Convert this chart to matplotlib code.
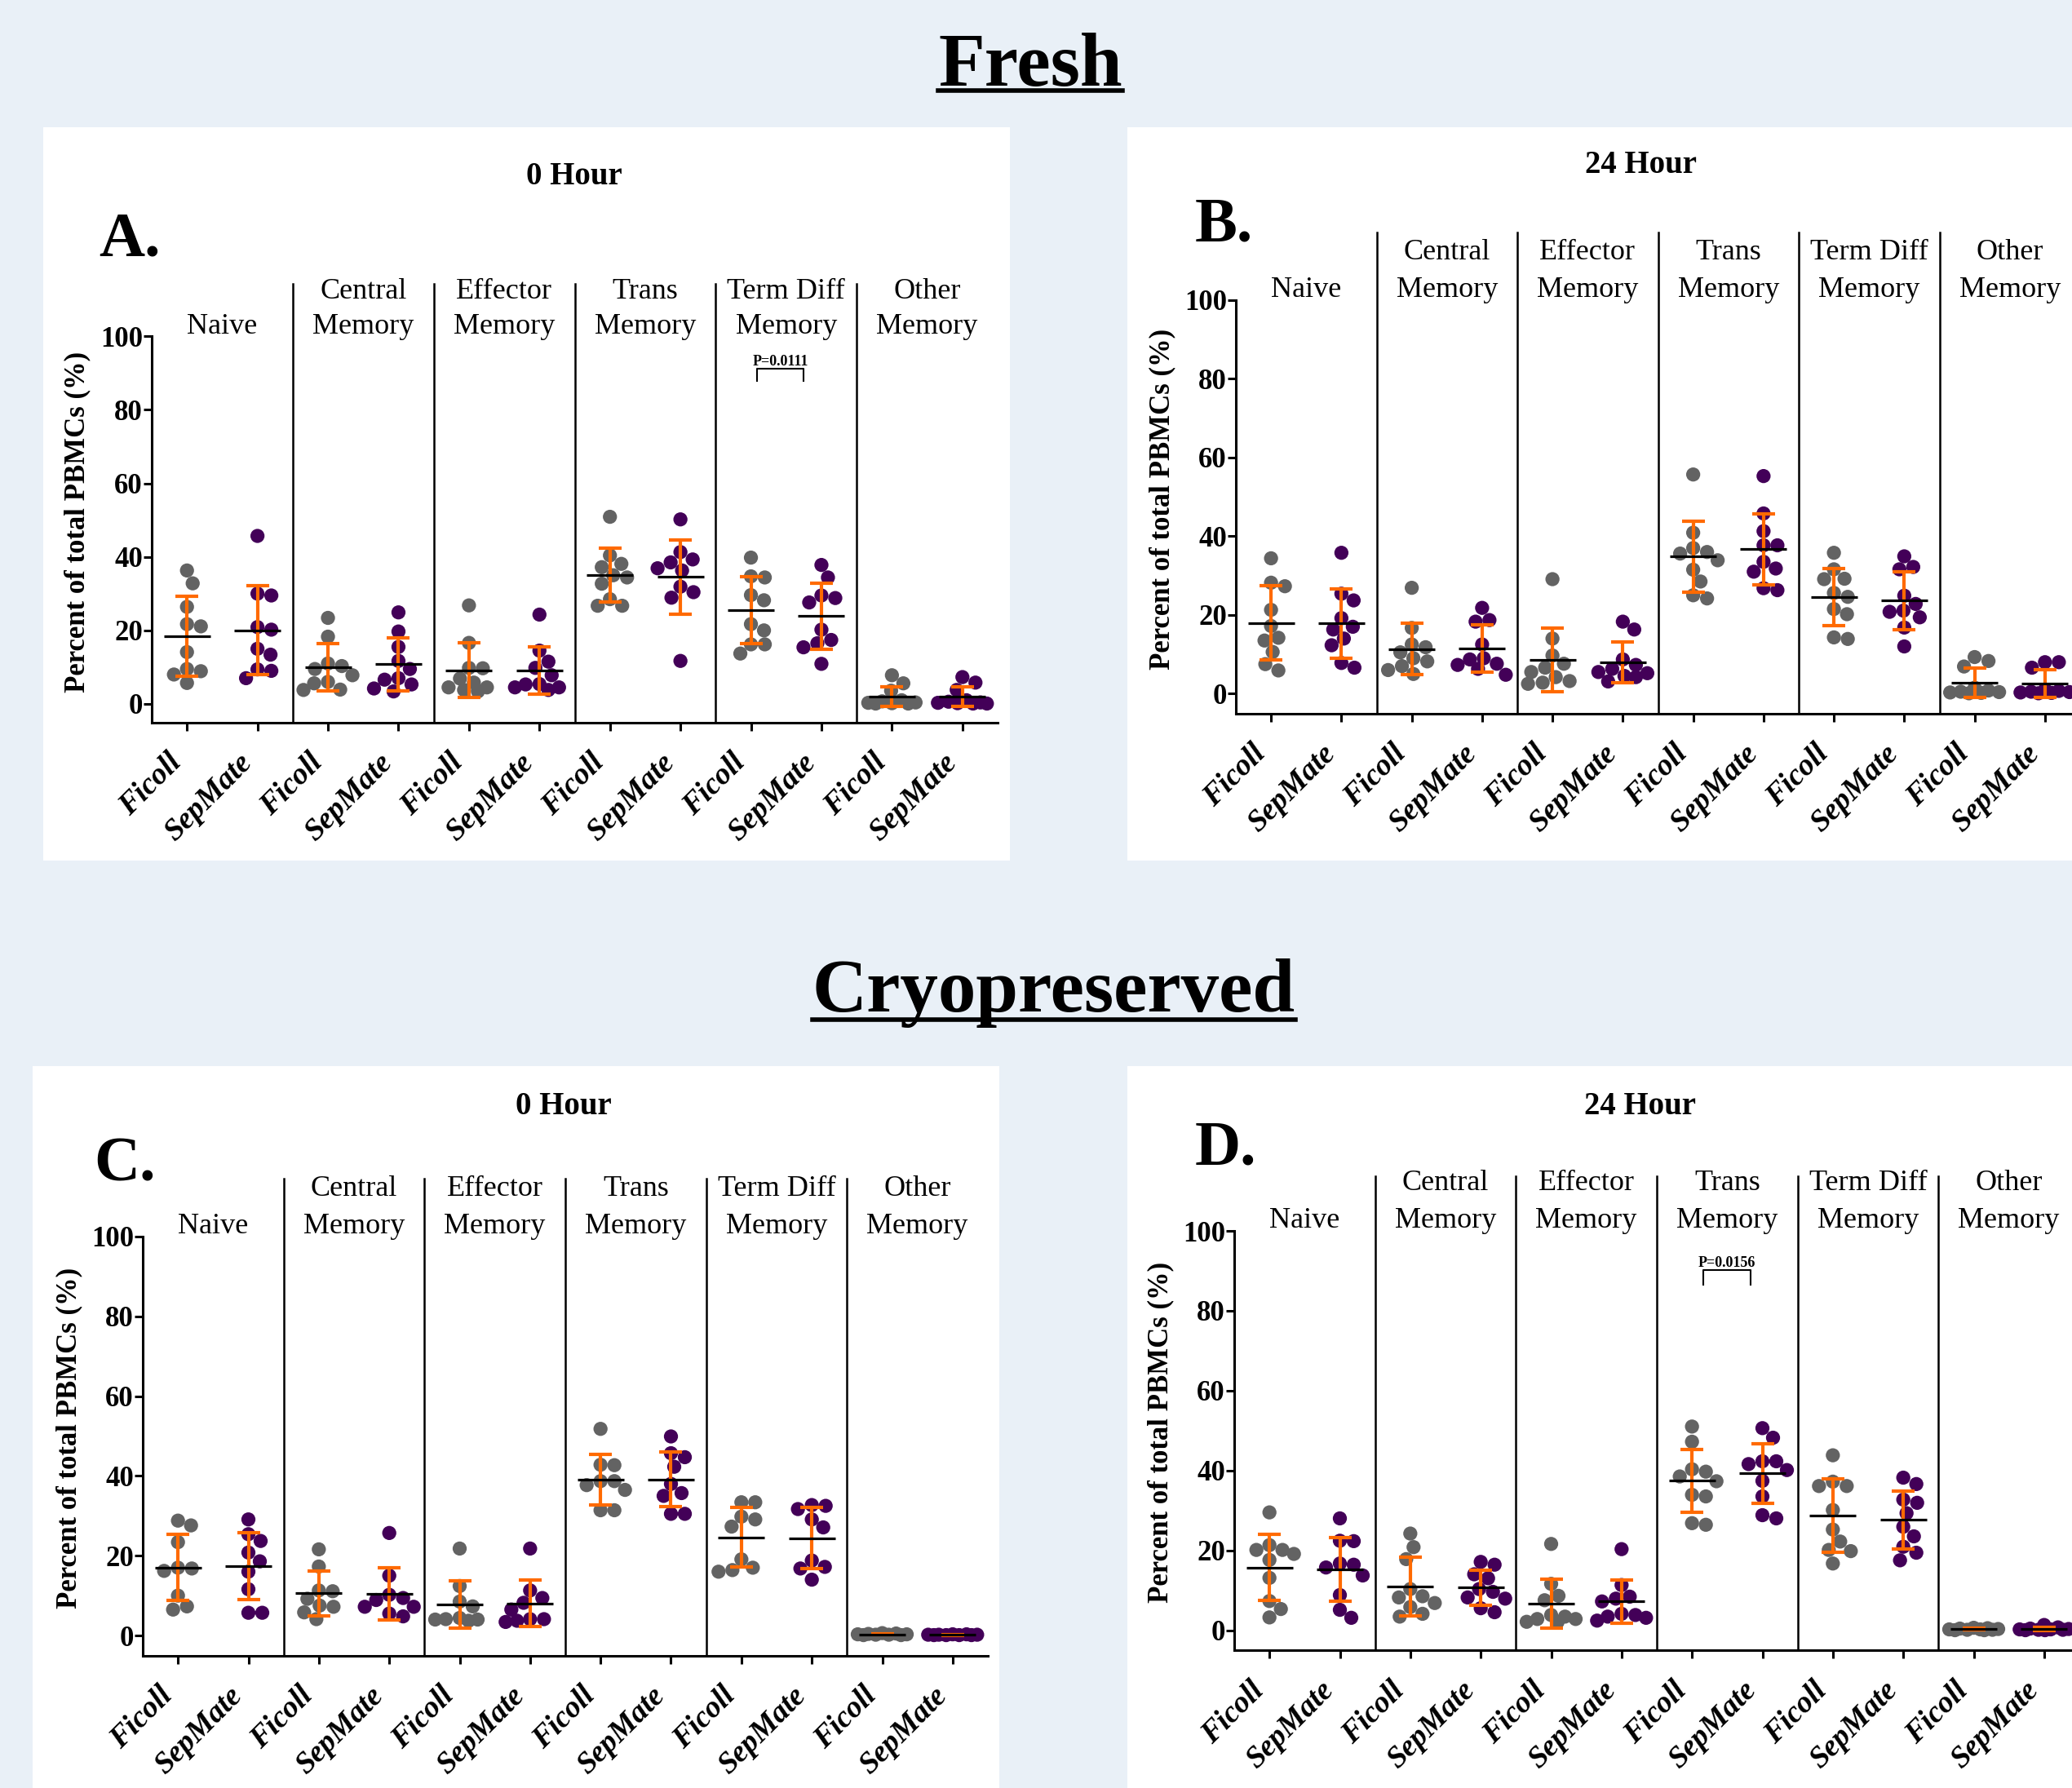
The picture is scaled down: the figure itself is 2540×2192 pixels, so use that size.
import numpy as np
import matplotlib
matplotlib.use("Agg")
import matplotlib.pyplot as plt
from matplotlib.patches import Rectangle
from matplotlib.lines import Line2D

plt.rcParams['font.family'] = ['Liberation Serif', 'DejaVu Serif']

W, H = 2540, 2192

# ---- data (percent of total PBMCs), one list per cell type ----
cell_types = [("", "Naive"), ("Central", "Memory"), ("Effector", "Memory"),
              ("Trans", "Memory"), ("Term Diff", "Memory"), ("Other", "Memory")]
methods = ["Ficoll", "SepMate"]

# Fresh, 0 hour
A_ficoll = [
    [36.3, 32.8, 26.4, 21.7, 21.1, 14.1, 9.5, 8.9, 8.0, 5.7],
    [23.4, 18.3, 11.0, 10.3, 9.5, 7.8, 6.0, 5.6, 3.9, 3.8],
    [26.8, 16.6, 9.8, 9.7, 6.9, 5.8, 4.5, 4.5, 3.8, 3.4],
    [50.9, 40.4, 38.1, 37.2, 35.0, 34.4, 32.7, 28.5, 26.7, 26.7],
    [39.8, 34.7, 34.4, 29.6, 28.2, 21.7, 20.0, 16.2, 16.2, 13.7],
    [7.8, 5.6, 3.6, 1.0, 0.7, 0.4, 0.3, 0.2, 0.1, 0.1],
]
A_sepmate = [
    [45.7, 30.0, 29.5, 20.9, 20.2, 15.0, 13.4, 9.4, 9.0, 7.0],
    [24.9, 19.7, 15.5, 11.7, 9.5, 7.0, 6.6, 5.3, 4.2, 3.4],
    [24.3, 14.5, 11.5, 9.8, 7.8, 5.4, 5.3, 4.5, 4.5, 3.8],
    [50.2, 41.3, 39.3, 38.5, 36.9, 36.3, 31.9, 30.4, 28.9, 11.7],
    [37.8, 34.4, 29.5, 28.8, 27.6, 20.2, 17.4, 16.5, 15.4, 10.9],
    [7.3, 5.8, 3.8, 1.0, 0.6, 0.4, 0.3, 0.2, 0.1, 0.1],
]
# Fresh, 24 hour
B_ficoll = [
    [34.4, 28.2, 27.3, 21.3, 17.2, 14.2, 13.5, 10.6, 7.5, 5.9],
    [26.9, 16.7, 12.5, 11.8, 10.5, 9.0, 8.2, 7.0, 6.0, 5.0],
    [29.1, 14.0, 9.7, 7.6, 6.6, 5.5, 4.2, 3.2, 2.8, 2.5],
    [55.7, 40.9, 37.0, 36.0, 35.6, 33.9, 31.5, 28.5, 25.0, 24.2],
    [35.8, 31.6, 29.2, 29.1, 25.6, 24.6, 21.5, 20.2, 14.3, 13.9],
    [9.3, 8.3, 6.9, 1.5, 0.8, 0.5, 0.4, 0.3, 0.2, 0.1],
]
B_sepmate = [
    [35.8, 25.4, 23.7, 19.2, 17.0, 16.3, 14.0, 12.3, 7.8, 6.6],
    [21.8, 18.7, 18.3, 12.5, 9.0, 8.7, 7.6, 7.3, 6.3, 4.8],
    [18.3, 16.3, 8.7, 7.3, 6.3, 5.5, 5.2, 4.5, 4.2, 3.1],
    [55.3, 45.8, 41.3, 37.7, 37.7, 33.5, 31.8, 31.0, 26.8, 26.3],
    [34.9, 32.2, 31.6, 24.9, 22.8, 21.1, 20.8, 19.4, 16.8, 12.0],
    [8.0, 8.0, 6.6, 1.0, 0.7, 0.5, 0.4, 0.3, 0.2, 0.1],
]
# Cryopreserved, 0 hour
C_ficoll = [
    [28.8, 27.6, 23.4, 17.0, 16.8, 16.2, 10.0, 7.3, 6.5],
    [21.6, 17.3, 11.3, 11.1, 9.2, 7.5, 7.2, 5.8, 4.1],
    [21.8, 12.4, 8.5, 7.3, 4.4, 4.1, 4.0, 4.0, 3.7],
    [51.8, 42.8, 42.7, 38.7, 38.7, 37.7, 36.5, 31.4, 31.4],
    [33.4, 33.4, 29.8, 29.1, 27.3, 19.1, 17.0, 16.4, 16.0],
    [0.6, 0.5, 0.4, 0.3, 0.3, 0.2, 0.2, 0.1, 0.1],
]
C_sepmate = [
    [29.1, 25.4, 23.7, 20.8, 18.6, 16.0, 11.6, 5.7, 5.7],
    [25.7, 15.0, 10.2, 9.4, 8.9, 7.2, 7.2, 5.5, 4.8],
    [21.8, 11.3, 9.4, 8.2, 6.5, 4.1, 4.1, 3.7, 3.4],
    [49.9, 45.7, 44.7, 42.3, 38.0, 35.7, 35.0, 30.5, 30.5],
    [32.7, 32.5, 31.7, 29.1, 27.1, 18.8, 17.2, 16.8, 14.0],
    [0.3, 0.3, 0.2, 0.2, 0.2, 0.1, 0.1, 0.1, 0.1],
]
# Cryopreserved, 24 hour
D_ficoll = [
    [29.5, 21.3, 20.1, 20.1, 19.1, 17.6, 13.1, 7.3, 5.3, 3.2],
    [24.2, 20.8, 17.8, 10.3, 8.5, 8.2, 6.8, 5.8, 4.1, 3.4],
    [21.6, 11.6, 8.6, 7.5, 3.8, 3.4, 2.8, 2.8, 2.1, 2.1],
    [51.0, 47.2, 40.3, 39.7, 38.5, 37.3, 33.9, 33.5, 26.8, 26.4],
    [43.8, 37.2, 36.1, 36.1, 30.1, 25.2, 22.2, 20.1, 19.8, 16.7],
    [0.6, 0.5, 0.4, 0.3, 0.2, 0.2, 0.1, 0.1, 0.0, 0.0],
]
D_sepmate = [
    [28.0, 22.4, 22.3, 16.7, 16.4, 15.7, 13.7, 8.8, 5.1, 3.1],
    [17.1, 16.4, 14.0, 13.0, 10.3, 9.6, 8.2, 7.9, 5.5, 4.5],
    [20.3, 11.3, 8.4, 7.9, 7.2, 4.1, 3.8, 3.4, 3.1, 2.4],
    [50.6, 48.2, 42.3, 42.3, 41.6, 40.1, 37.4, 33.5, 28.8, 28.0],
    [38.2, 36.6, 32.7, 31.9, 29.3, 25.9, 23.5, 20.9, 19.4, 17.5],
    [1.3, 0.7, 0.4, 0.3, 0.2, 0.2, 0.1, 0.1, 0.0, 0.0],
]

BG = '#e9f0f7'
GREY = '#636363'
PURPLE = '#430058'
ORANGE = '#ff6a00'


def fx(px):
    return px / W


def fy(py):
    return 1 - py / H


def swarm(values, xc, ppx, ppy, d=17.0, cap=30):
    # simple beeswarm in pixel space, limited width (points may overlap)
    placed = []
    xs = np.zeros(len(values))
    offs = sorted(range(-cap, cap + 1), key=lambda o: (abs(o), -o))
    for i in np.argsort(values)[::-1]:
        y = values[i] * ppy
        best, best_d = 0, -1
        for o in offs:
            md = min([np.hypot(o - px, y - py) for px, py in placed] or [1e9])
            if md >= d:
                best = o
                break
            if md > best_d:
                best, best_d = o, md
        placed.append((best, y))
        xs[i] = xc + best / ppx
    return xs


panels = [
    dict(letter="A.", title="0 Hour", fic=A_ficoll, sep=A_sepmate,
         box=(53, 156, 1238, 1055), ax=(186, 1223, 412.3, 885.5),
         title_xy=(704, 216), letter_xy=(121, 314), div_top=114.3,
         pval=("P=0.0111", 8.09, 8.75, 91.1, 87.9)),
    dict(letter="B.", title="24 Hour", fic=B_ficoll, sep=B_sepmate,
         box=(1382, 156, 2545, 1055), ax=(1515, 2550, 368, 874.5),
         title_xy=(2012, 203), letter_xy=(1465, 296), div_top=117.2, pval=None),
    dict(letter="C.", title="0 Hour", fic=C_ficoll, sep=C_sepmate,
         box=(40, 1307, 1225, 2200), ax=(175, 1211, 1516, 2029.5),
         title_xy=(691, 1357), letter_xy=(115, 1447), div_top=114.5, pval=None),
    dict(letter="D.", title="24 Hour", fic=D_ficoll, sep=D_sepmate,
         box=(1382, 1307, 2545, 2200), ax=(1513, 2549, 1509, 2023),
         title_xy=(2011, 1357), letter_xy=(1465, 1428), div_top=113.7,
         pval=("P=0.0156", 6.16, 6.83, 90.2, 86.6)),
]

fig = plt.figure(figsize=(W / 100, H / 100), dpi=100)
fig.patch.set_facecolor(BG)

for p in panels:
    x0, y0, x1, y1 = p['box']
    fig.patches.append(Rectangle((fx(x0), fy(y1)), fx(x1) - fx(x0), fy(y0) - fy(y1),
                                 transform=fig.transFigure, facecolor='white',
                                 edgecolor='none', zorder=-5))

    l, r, t, b = p['ax']
    ax = fig.add_axes([fx(l), fy(b), (r - l) / W, (b - t) / H])
    ax.patch.set_visible(False)
    ax.set_xlim(-0.5, 11.5)
    ax.set_ylim(-5, 100)
    ppx = (r - l) / 12.0
    ppy = (b - t) / 105.0

    for g in range(6):
        for k, (vals, col) in enumerate([(p['fic'][g], GREY), (p['sep'][g], PURPLE)]):
            xc = 2 * g + k
            v = np.array(vals)
            xs = swarm(v, xc, ppx, ppy)
            ax.scatter(xs, v, s=155, color=col, edgecolor='none', zorder=2, clip_on=False)
            m, sd = v.mean(), v.std(ddof=1)
            ax.errorbar(xc, m, yerr=sd, fmt='none', ecolor=ORANGE, elinewidth=3,
                        capsize=10, capthick=3, zorder=3, clip_on=False)
            ax.hlines(m, xc - 0.33, xc + 0.33, color='black', lw=2.3, zorder=4)
        if g > 0:
            ax.add_line(Line2D([2 * g - 0.5] * 2, [-5, p['div_top']], color='black',
                               lw=1.8, clip_on=False))
        l1, l2 = cell_types[g]
        ax.text(2 * g + 0.5, 100.8, l2, ha='center', va='baseline', fontsize=26)
        if l1:
            ax.text(2 * g + 0.5, 110.3, l1, ha='center', va='baseline', fontsize=26)

    if p['pval']:
        txt, a0, a1, yb, yl = p['pval']
        ax.plot([a0, a0, a1, a1], [yl, yb, yb, yl], color='black', lw=1.5, clip_on=False)
        ax.text((a0 + a1) / 2, yb + 0.9, txt, ha='center', va='baseline',
                fontsize=13, fontweight='bold')

    for s in ['top', 'right']:
        ax.spines[s].set_visible(False)
    for s in ['left', 'bottom']:
        ax.spines[s].set_linewidth(2.2)
    ax.spines['left'].set_bounds(-5, 100)
    ax.set_yticks([0, 20, 40, 60, 80, 100])
    ax.set_yticklabels(['0', '20', '40', '60', '80', '100'], fontsize=25, fontweight='bold')
    ax.set_xticks(range(12))
    ax.set_xticklabels(methods * 6, rotation=45, ha='right', fontsize=27,
                       fontweight='bold', fontstyle='italic')
    ax.tick_params(axis='y', length=7, width=2.2, pad=1)
    ax.tick_params(axis='x', length=7, width=2.2, pad=16)
    ax.text(-1.55, 49.5, 'Percent of total PBMCs (%)', rotation=90, ha='center',
            va='center', fontsize=25, fontweight='bold')

    fig.text(fx(p['title_xy'][0]), fy(p['title_xy'][1]), p['title'], ha='center',
             va='center', fontsize=28, fontweight='bold')
    fig.text(fx(p['letter_xy'][0]), fy(p['letter_xy'][1]), p['letter'], ha='left',
             va='baseline', fontsize=56, fontweight='bold')

heads = [("Fresh", 1263, 105, 111), ("Cryopreserved", 1292, 1240, 1250)]
texts = []
for name, cx, base, ul in heads:
    t = fig.text(fx(cx), fy(base), name, ha='center', va='baseline', fontsize=67,
                 fontweight='bold')
    texts.append((t, ul))

fig.canvas.draw()
for t, ul in texts:
    bb = t.get_window_extent()
    fig.add_artist(Line2D([bb.x0 / W, bb.x1 / W], [fy(ul), fy(ul)],
                          transform=fig.transFigure, color='black', lw=4))

fig.savefig('out.png', dpi=100, facecolor=BG)
